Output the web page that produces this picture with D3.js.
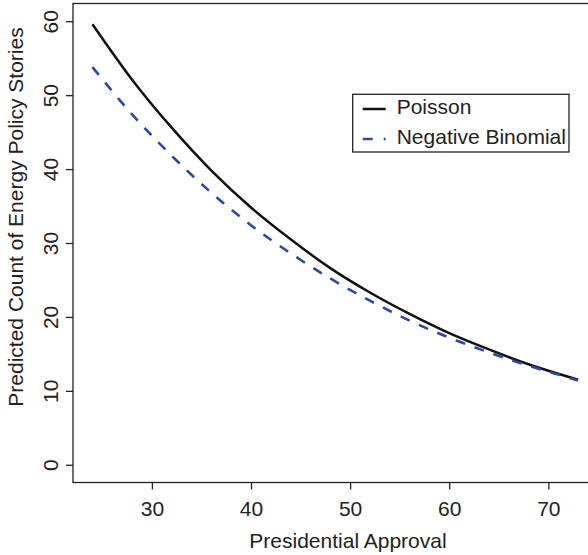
<!DOCTYPE html>
<html lang="en">
    <head>
        <meta charset="utf-8">
        <title>Predicted counts</title>
        <script type="text/javascript" src="https://cdnjs.cloudflare.com/ajax/libs/d3/7.8.5/d3.min.js"></script>
        <style>
          body { margin: 0; background: #fff; }
          text { font-family: "Liberation Sans", Arial, sans-serif; fill: #222; }
        </style>
    </head>
    <body>

        <script type="text/javascript">
          // values
          var approval = [24, 28, 32, 36, 40, 44, 48, 52, 56, 60, 64, 68, 72, 73];
          var poisson  = [59.6, 52.1, 45.6, 39.8, 34.8, 30.5, 26.6, 23.3, 20.4, 17.8, 15.6, 13.6, 11.9, 11.5];
          var negbin   = [53.8, 47.4, 41.8, 36.8, 32.4, 28.6, 25.2, 22.2, 19.5, 17.2, 15.2, 13.4, 11.8, 11.4];
          var xTicks = [30, 40, 50, 60, 70];
          var yTicks = [0, 10, 20, 30, 40, 50, 60];
          var legendLabels = ["Poisson", "Negative Binomial"];

          var w = 588;
          var h = 555;
          var fs = "21px";
          // plot region (window.top is taken, so use own names)
          var pLeft = 73, pRight = 597.5, pTop = 3.5, pBottom = 482.5;

          var svg = d3.select("body")
            .append("svg")
            .attr("width", w)
            .attr("height", h);

          // R style limits: data range padded by 4% on each side
          var xPad = (73 - 24) * 0.04;
          var yPad = (60 - 0) * 0.04;
          var x = d3.scaleLinear().domain([24 - xPad, 73 + xPad]).range([pLeft, pRight]);
          var y = d3.scaleLinear().domain([0 - yPad, 60 + yPad]).range([pBottom, pTop]);

          // box around the plot
          svg.append("rect")
            .attr("x", pLeft)
            .attr("y", pTop)
            .attr("width", pRight - pLeft)
            .attr("height", pBottom - pTop)
            .attr("fill", "none")
            .attr("stroke", "#222")
            .attr("stroke-width", 1.3);

          // x axis
          var xAxis = svg.append("g")
            .attr("transform", "translate(0," + pBottom + ")")
            .call(d3.axisBottom(x).tickValues(xTicks).tickSize(7).tickPadding(12));
          xAxis.select(".domain").remove();
          xAxis.selectAll("line").attr("stroke", "#222").attr("stroke-width", 1.3);
          xAxis.selectAll("text")
            .attr("font-size", fs)
            .attr("font-family", "Liberation Sans, Arial, sans-serif")
            .attr("fill", "#222");

          // y axis, labels turned like R does it
          var yAxis = svg.append("g")
            .attr("transform", "translate(" + pLeft + ",0)")
            .call(d3.axisLeft(y).tickValues(yTicks).tickSize(7));
          yAxis.select(".domain").remove();
          yAxis.selectAll("line").attr("stroke", "#222").attr("stroke-width", 1.3);
          yAxis.selectAll("text")
            .attr("x", 0)
            .attr("dy", null)
            .attr("text-anchor", "middle")
            .attr("transform", "translate(-15,0) rotate(-90)")
            .attr("font-size", fs)
            .attr("font-family", "Liberation Sans, Arial, sans-serif")
            .attr("fill", "#222");

          // axis titles
          svg.append("text")
            .attr("x", 348)
            .attr("y", 548)
            .attr("text-anchor", "middle")
            .attr("font-size", fs)
            .text("Presidential Approval");

          svg.append("text")
            .attr("transform", "translate(23,217) rotate(-90)")
            .attr("text-anchor", "middle")
            .attr("font-size", fs)
            .text("Predicted Count of Energy Policy Stories");

          // the two curves
          var line = d3.line()
            .x(function(d) { return x(d[0]); })
            .y(function(d) { return y(d[1]); })
            .curve(d3.curveMonotoneX);

          svg.append("path")
            .datum(approval.map(function(a, i) { return [a, poisson[i]]; }))
            .attr("d", line)
            .attr("fill", "none")
            .attr("stroke", "#111")
            .attr("stroke-width", 2.5);

          svg.append("path")
            .datum(approval.map(function(a, i) { return [a, negbin[i]]; }))
            .attr("d", line)
            .attr("fill", "none")
            .attr("stroke", "#2e47a6")
            .attr("stroke-width", 2.6)
            .attr("stroke-dasharray", "10,10");

          // legend
          var legend = svg.append("g");
          legend.append("rect")
            .attr("x", 352.7)
            .attr("y", 94.3)
            .attr("width", 569 - 352.7)
            .attr("height", 152 - 94.3)
            .attr("fill", "#fff")
            .attr("stroke", "#222")
            .attr("stroke-width", 1.3);

          var rows = legend.selectAll("g.row")
            .data(legendLabels)
            .enter()
            .append("g")
            .attr("class", "row")
            .attr("transform", function(d, i) { return "translate(0," + (109 + i * 30) + ")"; });

          rows.append("line")
            .attr("x1", 362.7)
            .attr("x2", 385.7)
            .attr("y1", 0)
            .attr("y2", 0)
            .attr("stroke", function(d, i) { return i === 0 ? "#111" : "#2e47a6"; })
            .attr("stroke-width", 2.5)
            .attr("stroke-dasharray", function(d, i) { return i === 0 ? null : "10,11"; });

          rows.append("text")
            .attr("x", 396.7)
            .attr("y", 4.5)
            .attr("font-size", fs)
            .text(function(d) { return d; });

        </script>
    </body>
</html>
